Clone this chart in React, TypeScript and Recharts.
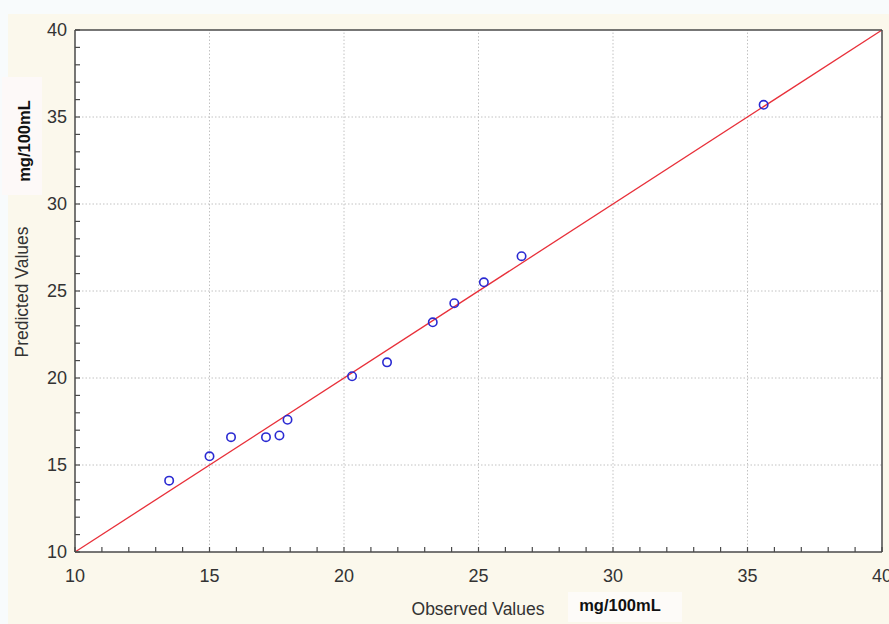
import { ScatterChart, Scatter, XAxis, YAxis, CartesianGrid, ReferenceLine } from "recharts"

// observed vs predicted, mg/100mL
const observed = [13.5, 15.0, 15.8, 17.1, 17.6, 17.9, 20.3, 21.6, 23.3, 24.1, 25.2, 26.6, 35.6]
const predicted = [14.1, 15.5, 16.6, 16.6, 16.7, 17.6, 20.1, 20.9, 23.2, 24.3, 25.5, 27.0, 35.7]

const axisTicks = [10, 11, 12, 13, 14, 15, 16, 17, 18, 19, 20, 21, 22, 23, 24, 25, 26, 27, 28, 29, 30, 31, 32, 33, 34, 35, 36, 37, 38, 39, 40]
const labelTicks = [10, 15, 20, 25, 30, 35, 40]
const gridValues = [15, 20, 25, 30, 35]
const fitLine = [{ x: 10, y: 10 }, { x: 40, y: 40 }]

const points = observed.map((x, i) => ({ x, y: predicted[i] }))

const font = "'Liberation Sans', Arial, sans-serif"
const textColor = "#333"
const frame = "#4a4a4a"
const gridColor = "#c2c2c2"

function BottomTick(props: any) {
  const { x, y, payload } = props
  const v = payload.value
  return (
    <g>
      <line x1={x} y1={y} x2={x} y2={y - 5} stroke={frame} strokeWidth={1.2} />
      {labelTicks.includes(v) && (
        <text x={x} y={y + 30} textAnchor="middle" fontSize={18} fontFamily={font} fill={textColor}>
          {v}
        </text>
      )}
    </g>
  )
}

function TopTick(props: any) {
  const { x, y } = props
  return <line x1={x} y1={y} x2={x} y2={y + 5} stroke={frame} strokeWidth={1.2} />
}

function LeftTick(props: any) {
  const { x, y, payload } = props
  const v = payload.value
  return (
    <g>
      <line x1={x} y1={y} x2={x + 5} y2={y} stroke={frame} strokeWidth={1.2} />
      {labelTicks.includes(v) && (
        <text x={x - 8} y={y + 6} textAnchor="end" fontSize={18} fontFamily={font} fill={textColor}>
          {v}
        </text>
      )}
    </g>
  )
}

function RightTick(props: any) {
  const { x, y } = props
  return <line x1={x} y1={y} x2={x - 5} y2={y} stroke={frame} strokeWidth={1.2} />
}

export default function App() {
  return (
    <div style={{ position: "absolute", left: 0, top: 0, width: 889, height: 624, background: "#f8fbfc" }}>
      <div style={{ position: "absolute", left: 8, top: 14, width: 881, height: 610, background: "#fbf8ec" }} />

      <div style={{ position: "absolute", left: 0, top: 0 }}>
        <ScatterChart width={889} height={624} margin={{ top: 25, right: 2, bottom: 42, left: 15 }}>
          <CartesianGrid fill="#ffffff" horizontal={false} vertical={false} />
          {gridValues.map((v) => (
            <ReferenceLine key={"vx" + v} x={v} stroke={gridColor} strokeDasharray="1.5 2" />
          ))}
          {gridValues.map((v) => (
            <ReferenceLine key={"hy" + v} y={v} stroke={gridColor} strokeDasharray="1.5 2" />
          ))}
          <XAxis
            type="number"
            dataKey="x"
            domain={[10, 40]}
            ticks={axisTicks}
            interval={0}
            height={30}
            tickSize={0}
            tickMargin={0}
            tickLine={false}
            axisLine={{ stroke: frame, strokeWidth: 1.5 }}
            tick={<BottomTick />}
          />
          <XAxis
            xAxisId="top"
            orientation="top"
            type="number"
            dataKey="x"
            domain={[10, 40]}
            ticks={axisTicks}
            interval={0}
            height={5}
            tickSize={0}
            tickMargin={0}
            tickLine={false}
            axisLine={{ stroke: frame, strokeWidth: 1.5 }}
            tick={<TopTick />}
          />
          <YAxis
            type="number"
            dataKey="y"
            domain={[10, 40]}
            ticks={axisTicks}
            interval={0}
            width={60}
            tickSize={0}
            tickMargin={0}
            tickLine={false}
            axisLine={{ stroke: frame, strokeWidth: 1.5 }}
            tick={<LeftTick />}
          />
          <YAxis
            yAxisId="right"
            orientation="right"
            type="number"
            dataKey="y"
            domain={[10, 40]}
            ticks={axisTicks}
            interval={0}
            width={5}
            tickSize={0}
            tickMargin={0}
            tickLine={false}
            axisLine={{ stroke: frame, strokeWidth: 1.5 }}
            tick={<RightTick />}
          />
          <ReferenceLine segment={fitLine} stroke="#e8303a" strokeWidth={1.3} ifOverflow="visible" />
          <Scatter
            data={points}
            isAnimationActive={false}
            shape={(p: any) => (
              <circle cx={p.cx} cy={p.cy} r={4.2} fill="none" stroke="#2a2ad2" strokeWidth={1.6} />
            )}
          />
        </ScatterChart>
      </div>

      <div
        style={{
          position: "absolute", left: 2, top: 77, width: 40, height: 118, background: "#fdf9f8",
        }}
      />
      <div
        style={{
          position: "absolute", left: 24, top: 141, transform: "translate(-50%, -50%) rotate(-90deg)",
          fontFamily: font, fontWeight: "bold", fontSize: 16.5, color: "#111", whiteSpace: "nowrap",
        }}
      >
        mg/100mL
      </div>
      <div
        style={{
          position: "absolute", left: 22, top: 292, transform: "translate(-50%, -50%) rotate(-90deg)",
          fontFamily: font, fontSize: 17.5, color: textColor, whiteSpace: "nowrap",
        }}
      >
        Predicted Values
      </div>
      <div
        style={{
          position: "absolute", left: 478, top: 609, transform: "translate(-50%, -50%)",
          fontFamily: font, fontSize: 17.5, color: textColor, whiteSpace: "nowrap",
        }}
      >
        Observed Values
      </div>
      <div
        style={{
          position: "absolute", left: 568, top: 592, width: 114, height: 30, background: "#fdfbf8",
        }}
      />
      <div
        style={{
          position: "absolute", left: 620, top: 605, transform: "translate(-50%, -50%)",
          fontFamily: font, fontWeight: "bold", fontSize: 16.5, color: "#111", whiteSpace: "nowrap",
        }}
      >
        mg/100mL
      </div>
    </div>
  )
}
